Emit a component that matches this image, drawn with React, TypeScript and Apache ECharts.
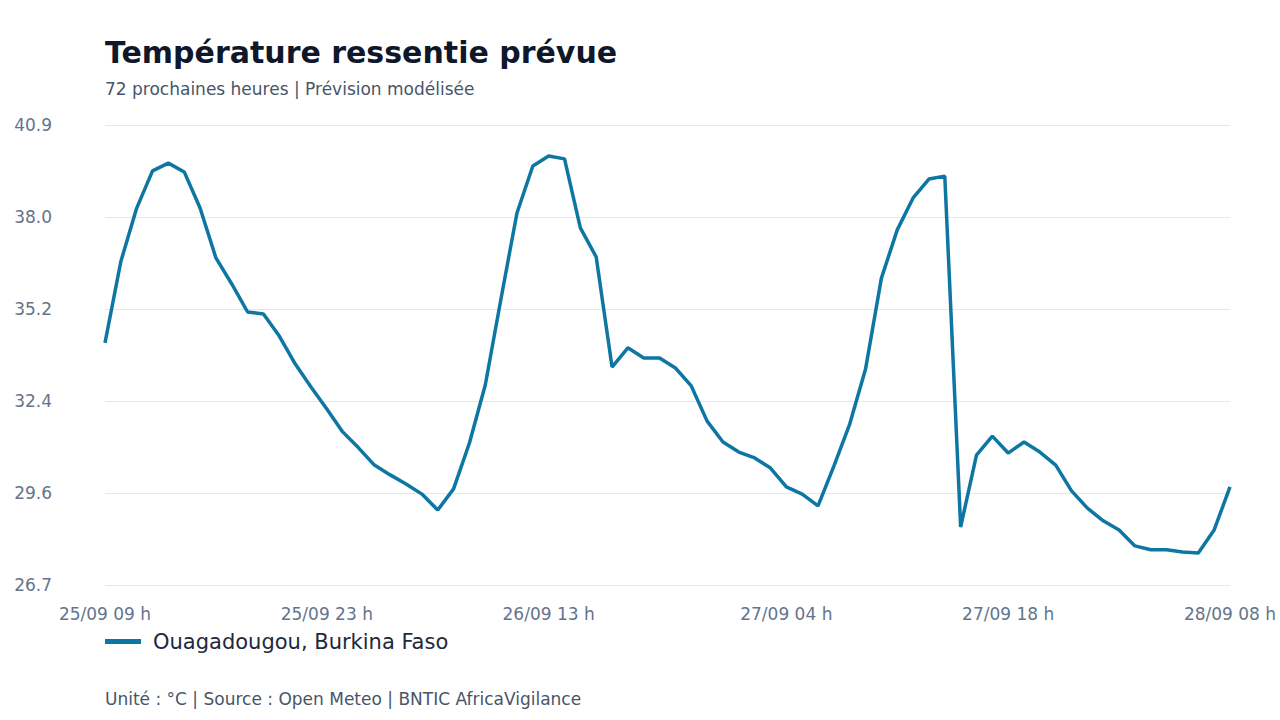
import { useEffect, useRef } from 'react'
import * as echarts from 'echarts'

const HOURS = [
  '25/09 09 h', '25/09 10 h', '25/09 11 h', '25/09 12 h', '25/09 13 h', '25/09 14 h', '25/09 15 h', '25/09 16 h',
  '25/09 17 h', '25/09 18 h', '25/09 19 h', '25/09 20 h', '25/09 21 h', '25/09 22 h', '25/09 23 h',
  '26/09 00 h', '26/09 01 h', '26/09 02 h', '26/09 03 h', '26/09 04 h', '26/09 05 h', '26/09 06 h', '26/09 07 h',
  '26/09 08 h', '26/09 09 h', '26/09 10 h', '26/09 11 h', '26/09 12 h', '26/09 13 h', '26/09 14 h', '26/09 15 h',
  '26/09 16 h', '26/09 17 h', '26/09 18 h', '26/09 19 h', '26/09 20 h', '26/09 21 h', '26/09 22 h', '26/09 23 h',
  '27/09 00 h', '27/09 01 h', '27/09 02 h', '27/09 03 h', '27/09 04 h', '27/09 05 h', '27/09 06 h', '27/09 07 h',
  '27/09 08 h', '27/09 09 h', '27/09 10 h', '27/09 11 h', '27/09 12 h', '27/09 13 h', '27/09 14 h', '27/09 15 h',
  '27/09 16 h', '27/09 17 h', '27/09 18 h', '27/09 19 h', '27/09 20 h', '27/09 21 h', '27/09 22 h', '27/09 23 h',
  '28/09 00 h', '28/09 01 h', '28/09 02 h', '28/09 03 h', '28/09 04 h', '28/09 05 h', '28/09 06 h', '28/09 07 h',
  '28/09 08 h'
]

// ressenti (°C), Ouagadougou
const FEELS_LIKE = [
  34.17, 36.67, 38.31, 39.45, 39.69, 39.42, 38.31, 36.78, 35.98, 35.12, 35.06, 34.38,
  33.53, 32.82, 32.14, 31.44, 30.95, 30.42, 30.12, 29.84, 29.53, 29.04, 29.69, 31.1,
  32.88, 35.55, 38.16, 39.6, 39.91, 39.82, 37.7, 36.81, 33.43, 34.02, 33.71, 33.71,
  33.4, 32.85, 31.77, 31.13, 30.82, 30.64, 30.33, 29.75, 29.53, 29.17, 30.39, 31.68,
  33.37, 36.16, 37.64, 38.62, 39.2, 39.29, 28.52, 30.73, 31.31, 30.79, 31.13, 30.82,
  30.42, 29.63, 29.1, 28.71, 28.43, 27.94, 27.82, 27.82, 27.75, 27.72, 28.43, 29.75
]

const SHOWN_LABELS = [0, 14, 28, 43, 57, 71]
const Y_MIN = 26.74
const Y_MAX = 40.86

const FONT = 'DejaVu Sans'
const LINE_COLOR = '#0e76a3'

export default function App() {
  const ref = useRef<HTMLDivElement | null>(null)

  useEffect(() => {
    if (!ref.current) return
    const chart = echarts.init(ref.current, undefined, { renderer: 'svg' })

    chart.setOption({
      animation: false,
      backgroundColor: '#ffffff',
      title: [
        {
          text: 'Température ressentie prévue',
          left: 105,
          top: 37,
          padding: 0,
          textStyle: { fontFamily: FONT, fontSize: 30, fontWeight: 'bold', color: '#0f172a' }
        },
        {
          text: '72 prochaines heures | Prévision modélisée',
          left: 105,
          top: 80,
          padding: 0,
          textStyle: { fontFamily: FONT, fontSize: 17, fontWeight: 'normal', color: '#475569' }
        },
        {
          text: 'Unité : °C | Source : Open Meteo | BNTIC AfricaVigilance',
          left: 105,
          top: 690,
          padding: 0,
          textStyle: { fontFamily: FONT, fontSize: 17, fontWeight: 'normal', color: '#475569' }
        }
      ],
      legend: {
        left: 100,
        top: 626,
        icon: 'rect',
        itemWidth: 36,
        itemHeight: 5,
        textStyle: { fontFamily: FONT, fontSize: 21, color: '#1e293b', padding: [0, 0, 0, 7] }
      },
      grid: { left: 105, right: 50, top: 125, bottom: 135 },
      xAxis: {
        type: 'category',
        data: HOURS,
        boundaryGap: false,
        axisLine: { show: false },
        axisTick: { show: false },
        axisLabel: {
          interval: (idx: number) => SHOWN_LABELS.includes(idx),
          margin: 20,
          fontFamily: FONT,
          fontSize: 17,
          color: '#64748b'
        },
        splitLine: { show: false }
      },
      yAxis: {
        type: 'value',
        min: Y_MIN,
        max: Y_MAX,
        interval: (Y_MAX - Y_MIN) / 5,
        axisLine: { show: false },
        axisTick: { show: false },
        axisLabel: {
          margin: 53,
          fontFamily: FONT,
          fontSize: 17,
          color: '#64748b',
          formatter: (v: number) => v.toFixed(1)
        },
        splitLine: { lineStyle: { color: '#e5e7eb', width: 1 } }
      },
      series: [
        {
          name: 'Ouagadougou, Burkina Faso',
          type: 'line',
          data: FEELS_LIKE,
          symbol: 'none',
          smooth: false,
          itemStyle: { color: LINE_COLOR },
          lineStyle: { color: LINE_COLOR, width: 3.5 }
        }
      ]
    })

    return () => chart.dispose()
  }, [])

  return (
    <div
      ref={ref}
      style={{ position: 'fixed', left: 0, top: 0, width: 1280, height: 720 }}
    />
  )
}
